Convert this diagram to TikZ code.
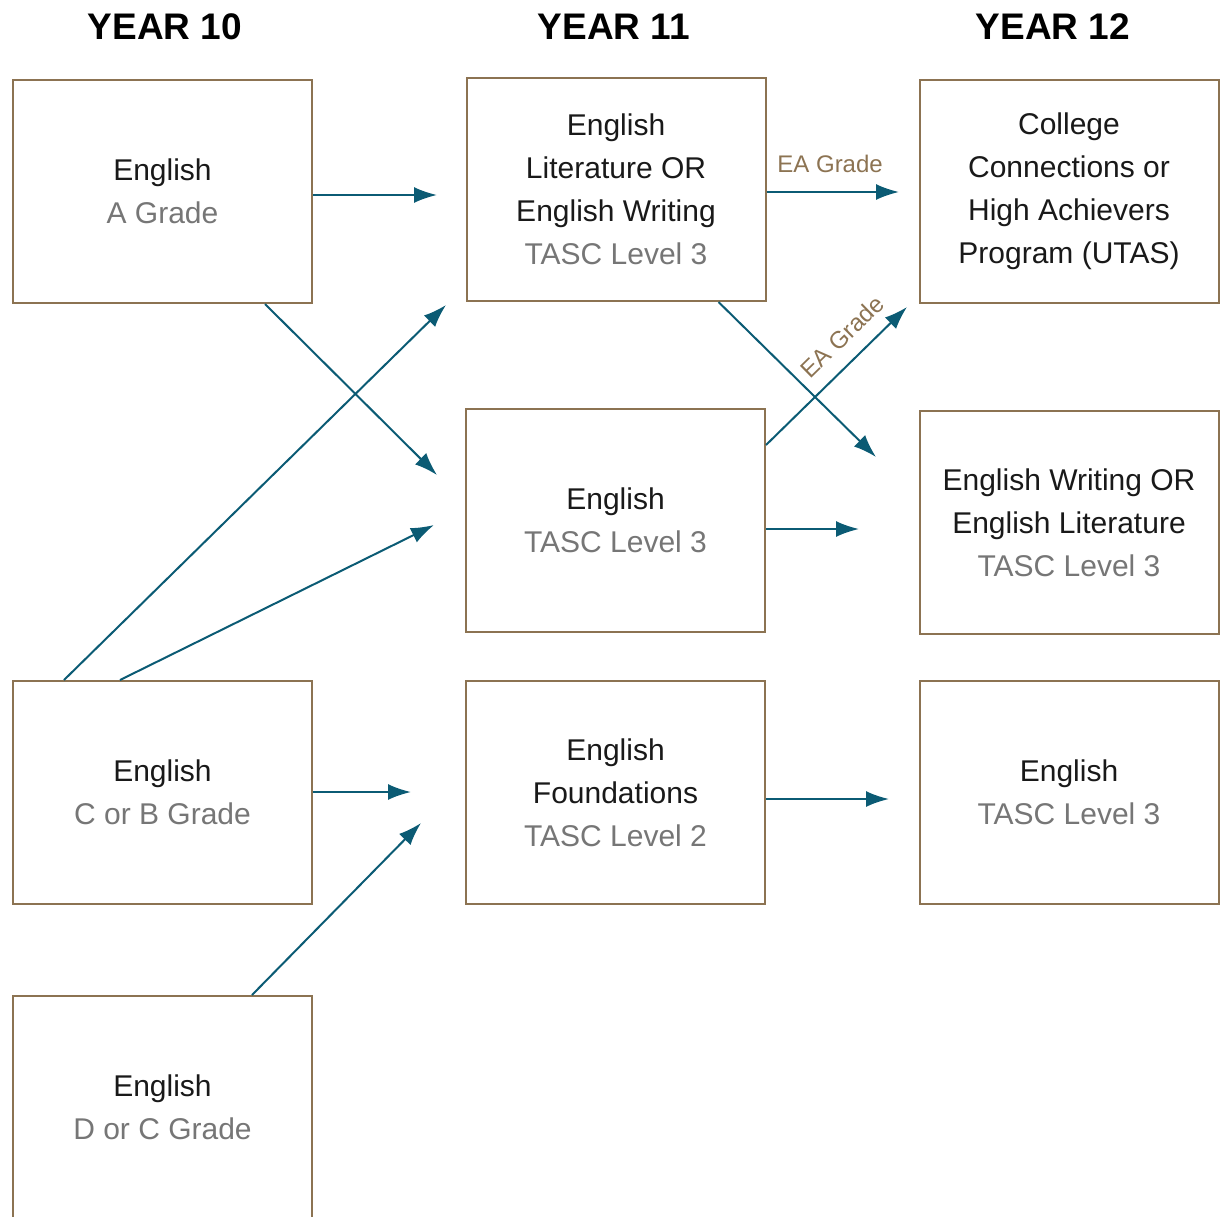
\documentclass[tikz,border=0pt]{standalone}
\usepackage{fontspec}
\setmainfont{Liberation Sans}
\usetikzlibrary{arrows.meta}
\definecolor{frame}{HTML}{8C7352}
\definecolor{flow}{HTML}{0B5B74}
\definecolor{soft}{HTML}{767676}

\begin{document}
\begin{tikzpicture}[x=1pt,y=-1pt]
      \tikzset { box/.style = { draw=frame, line width=2pt, minimum width=299pt, minimum height=223pt, inner sep=0pt, align=center, text=black!90, font=\fontsize{30}{43}\selectfont } }
      \tikzset { arr/.style = { draw=flow, line width=2pt, -{Latex[length=23pt,width=16pt]} } }
      \tikzset { head/.style = { anchor=base, font=\fontsize{37}{37}\selectfont\bfseries } }
      \tikzset { tag/.style = { text=frame, font=\fontsize{24}{24}\selectfont } }

      \useasboundingbox (0,0) rectangle (1220,1216);

      \node[head] (y10) at (165,39) {YEAR 10};
      \node[head] (y11) at (614,39) {YEAR 11};
      \node[head] (y12) at (1053,39) {YEAR 12};

      \node[box] (a) at (162.5,191.5) {English\\{\color{soft}A Grade}};
      \node[box] (lit) at (616,189.5) {English\\Literature OR\\English Writing\\{\color{soft}TASC Level 3}};
      \node[box] (col) at (1069,191.5) {College\\Connections or\\High Achievers\\Program (UTAS)};
      \node[box] (eng) at (615.5,520.5) {English\\{\color{soft}TASC Level 3}};
      \node[box] (wri) at (1069,522.5) {English Writing OR\\English Literature\\{\color{soft}TASC Level 3}};
      \node[box] (cb) at (162.5,792.5) {English\\{\color{soft}C or B Grade}};
      \node[box] (fou) at (615.5,792.5) {English\\Foundations\\{\color{soft}TASC Level 2}};
      \node[box] (e12) at (1069,792.5) {English\\{\color{soft}TASC Level 3}};
      \node[box] (dc) at (162.5,1107.5) {English\\{\color{soft}D or C Grade}};

      \coordinate (t1) at (437,195);
      \coordinate (t2) at (437,475);
      \coordinate (t3) at (446,305);
      \coordinate (t4) at (434,525);
      \coordinate (t5) at (411,792);
      \coordinate (t6) at (421,823);
      \coordinate (t7) at (899,192);
      \coordinate (t8) at (876,457);
      \coordinate (t9) at (907,307);
      \coordinate (t10) at (859,529);
      \coordinate (t11) at (889,799);

      \draw[arr] (a.east |- t1) -- (t1);
      \draw[arr] ([xshift=102.5pt]a.south) -- (t2);
      \draw[arr] ([xshift=52pt]cb.north west) -- (t3);
      \draw[arr] ([xshift=108pt]cb.north west) -- (t4);
      \draw[arr] (cb.east |- t5) -- (t5);
      \draw[arr] ([xshift=240pt]dc.north west) -- (t6);
      \draw[arr] (lit.east |- t7) -- node[tag, above=15pt, pos=0.48] {EA Grade} (t7);
      \draw[arr] ([xshift=253pt]lit.south west) -- (t8);
      \draw[arr] ([yshift=75.5pt]eng.east) -- node[tag, sloped, above=11pt, pos=0.66] {EA Grade} (t9);
      \draw[arr] (eng.east |- t10) -- (t10);
      \draw[arr] (fou.east |- t11) -- (t11);

    \end{tikzpicture}
\end{document}
